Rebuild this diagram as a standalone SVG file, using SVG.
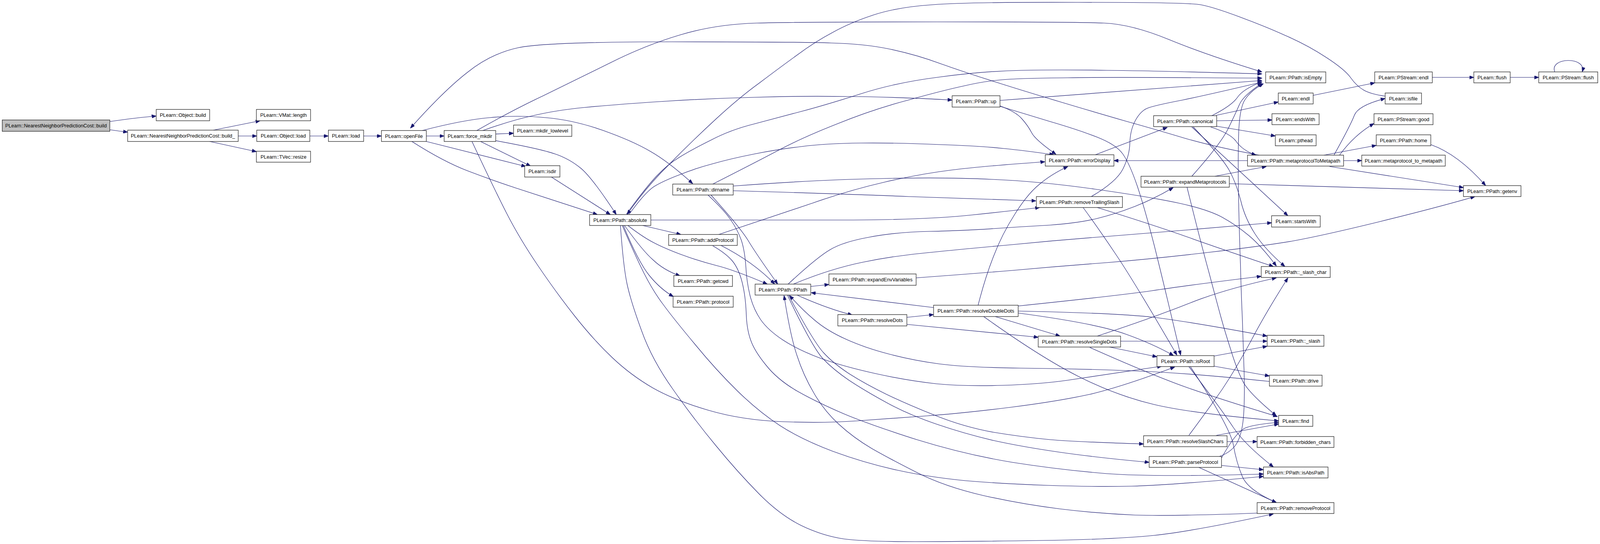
<svg xmlns="http://www.w3.org/2000/svg" width="4312" height="1392" viewBox="0 0 4312 1392">
<defs>
<marker id="a" viewBox="0 0 12 9" refX="12" refY="4.5" markerWidth="12" markerHeight="9" markerUnits="userSpaceOnUse" orient="auto"><path d="M0,0 L12,4.5 L0,9 z" fill="#191970" stroke="#191970" stroke-width="1"/></marker>
<style>
.n rect{fill:#fff;stroke:#222;stroke-width:1.3}
.n text{font-family:"Liberation Sans",Arial,Helvetica,sans-serif;font-size:13.33px;text-anchor:middle;fill:#000}
#edges path{fill:none;stroke:#191970;stroke-width:1.2;marker-end:url(#a)}
</style>
</defs>
<rect width="4312" height="1392" fill="#fff"/>
<g id="diagram" transform="scale(0.9499,1)">
<g id="edges">
<path d="M296,311 C340,305 380,300 421,297"/>
<path d="M296,332 C310,334 325,336 344,338"/>
<path d="M575,333 L701,309"/>
<path d="M642,348 L692,348"/>
<path d="M565,362 L691,388"/>
<path d="M835,348 L885,348"/>
<path d="M980,348 L1028,348"/>
<path d="M1149,348 L1197,348"/>
<path d="M1336,343 L1384,341"/>
<path d="M1149,362 L1417,426"/>
<path d="M1295,362 L1430,425"/>
<path d="M1110,362 Q1196,414 1260,437 Q1323,460 1390,481 Q1457,502 1610,549"/>
<path d="M1336,360 Q1457,381 1496,394 Q1534,406 1566,431 Q1597,456 1661,549"/>
<path d="M1486,453 L1645,549"/>
<path d="M1138,334 Q1247,307 1320,301 Q1393,294 1470,301 Q1546,307 1626,334 Q1706,361 1754,388 Q1802,414 1867,470"/>
<path d="M1285,334 Q1381,282 1464,245 Q1546,207 1642,162 Q1738,116 1834,89 Q1929,62 2040,59 Q2150,56 2525,56 Q2900,56 2975,59 Q3050,62 3150,101 Q3250,140 3401,184"/>
<path d="M1301,334 Q1381,307 1441,295 Q1500,282 1575,275 Q1650,268 1778,260 Q1905,252 2033,249 Q2160,245 2288,247 Q2415,248 2566,256"/>
<path d="M1272,362 Q1330,480 1365,545 Q1400,610 1450,680 Q1500,750 1550,810 Q1600,870 1650,915 Q1700,960 1760,993 Q1820,1025 1910,1050 Q2000,1075 2109,1079 Q2217,1083 2309,1077 Q2400,1071 2500,1064 Q2600,1057 2725,1042 Q2850,1027 2937,1009 Q3023,990 3166,939"/>
<path d="M3733,246 Q3695,241 3676,231 Q3656,220 3641,200 Q3626,179 3576,148 Q3525,116 3467,92 Q3409,67 3340,43 Q3270,18 3235,12 Q3200,6 2905,6 Q2610,5 2515,12 Q2419,18 2355,38 Q2291,58 2244,83 Q2196,107 2148,141 Q2100,174 2047,212 Q1993,249 1929,305 Q1865,361 1803,421 Q1740,480 1690,549"/>
<path d="M3394,397 Q3278,377 3194,354 Q3110,330 3034,310 Q2957,289 2855,260 Q2753,231 2677,208 Q2600,185 2535,163 Q2470,140 2400,126 Q2330,112 2240,110 Q2150,107 1810,107 Q1470,107 1397,122 Q1323,137 1260,185 Q1196,232 1106,328"/>
<path d="M1754,563 L2300,563 Q2500,562 2620,550 Q2720,540 2802,531"/>
<path d="M1732,577 L1835,600"/>
<path d="M1692,577 Q1733,607 1762,621 Q1790,635 1835,651 Q1880,667 1929,679 Q1977,690 2068,727"/>
<path d="M1683,577 Q1733,643 1760,665 Q1790,692 1833,706"/>
<path d="M1680,577 Q1720,670 1750,705 Q1780,740 1815,759"/>
<path d="M1672,577 Q1680,683 1690,727 Q1700,771 1729,846 Q1757,921 1815,998 Q1872,1075 1930,1141 Q1987,1207 2045,1263 Q2102,1318 2160,1345 Q2217,1371 2274,1379 Q2331,1386 2466,1386 Q2600,1386 2804,1383 Q3008,1380 3110,1370 Q3212,1360 3432,1315"/>
<path d="M1677,577 Q1710,650 1735,698 Q1760,745 1788,780 Q1815,815 1873,881 Q1930,947 1987,1000 Q2044,1053 2102,1089 Q2159,1124 2245,1155 Q2331,1185 2418,1203 Q2504,1221 2602,1230 Q2700,1238 2825,1242 Q2950,1246 3050,1244 Q3150,1242 3405,1219"/>
<path d="M1688,548 Q1740,480 1770,450 Q1800,420 1830,403 Q1860,385 1915,359 Q1969,332 2033,317 Q2096,301 2160,285 Q2224,269 2320,240 Q2415,211 2533,197 Q2650,182 2753,180 Q2855,178 2983,180 Q3110,181 3401,189"/>
<path d="M1695,549 Q1740,490 1765,476 Q1790,462 1832,447 Q1873,431 1921,419 Q1969,406 2033,394 Q2096,382 2160,375 Q2224,367 2320,366 Q2415,365 2533,370 Q2650,374 2705,380 Q2760,385 2840,396"/>
<path d="M1921,471 Q2033,417 2097,385 Q2160,353 2256,317 Q2352,280 2448,256 Q2543,231 2597,220 Q2650,208 2702,204 Q2753,200 2877,199 Q3000,197 3401,200"/>
<path d="M1916,499 Q1993,580 2016,615 Q2038,650 2096,727"/>
<path d="M1908,499 Q1950,536 1969,562 Q1988,588 1998,615 Q2007,641 2010,681 Q2012,720 2021,755 Q2030,790 2050,818 Q2070,845 2110,870 Q2150,895 2212,917 Q2274,938 2360,956 Q2446,974 2523,982 Q2600,989 2702,986 Q2804,983 2877,973 Q2950,963 3131,937"/>
<path d="M1976,488 Q2300,497 2450,503 Q2600,508 2792,514"/>
<path d="M1976,476 Q2200,460 2373,457 Q2546,453 2674,459 Q2802,464 2951,484 Q3100,504 3178,520 Q3255,536 3294,556 Q3332,576 3366,603 Q3400,630 3440,681"/>
<path d="M1937,600 Q2096,550 2192,519 Q2288,487 2384,466 Q2479,445 2565,435 Q2650,425 2816,414"/>
<path d="M1943,628 Q2030,670 2088,727"/>
<path d="M1921,629 Q1956,648 1974,668 Q1991,688 2000,722 Q2009,756 2011,799 Q2012,841 2023,870 Q2033,898 2065,935 Q2096,972 2149,1001 Q2201,1029 2272,1058 Q2342,1086 2471,1125 Q2600,1163 2728,1183 Q2855,1202 2983,1212 Q3110,1221 3405,1213"/>
<path d="M2185,733 L2234,728"/>
<path d="M2148,755 Q2230,790 2297,806"/>
<path d="M2124,727 Q2201,659 2237,639 Q2272,619 2342,607 Q2412,594 2506,592 Q2600,590 2677,585 Q2753,580 2830,576 Q2906,571 2957,559 Q3008,547 3059,528 Q3110,509 3162,480"/>
<path d="M2138,727 Q2237,688 2325,671 Q2412,654 2506,646 Q2600,637 2728,626 Q2855,614 2983,605 Q3110,595 3205,588 Q3300,580 3427,570"/>
<path d="M2125,755 Q2194,877 2220,903 Q2245,929 2288,956 Q2331,982 2389,1009 Q2446,1035 2523,1064 Q2600,1093 2677,1106 Q2753,1118 2830,1125 Q2906,1131 3082,1136"/>
<path d="M2122,755 Q2190,890 2218,918 Q2245,945 2288,973 Q2331,1000 2389,1030 Q2446,1060 2523,1085 Q2600,1110 2677,1127 Q2753,1143 2855,1157 Q2957,1171 3097,1183"/>
<path d="M2516,787 L2186,749"/>
<path d="M3388,1313 Q3161,1321 3059,1318 Q2957,1314 2855,1302 Q2753,1290 2650,1268 Q2546,1245 2473,1210 Q2400,1175 2350,1148 Q2300,1120 2260,1085 Q2220,1050 2193,1005 Q2165,960 2148,910 Q2130,860 2113,756"/>
<path d="M3421,976 Q3212,955 3056,949 Q2900,943 2750,942 Q2600,940 2530,931 Q2460,922 2396,906 Q2331,890 2280,868 Q2228,846 2194,818 Q2159,790 2128,756"/>
<path d="M2469,711 Q2600,702 2728,692 Q2855,681 2983,672 Q3110,662 3255,646 Q3400,630 3482,617 Q3564,603 3719,567 Q3873,531 3975,503"/>
<path d="M2444,812 L2516,805"/>
<path d="M2444,830 L2798,863"/>
<path d="M2636,781 Q2655,710 2678,655 Q2700,600 2735,548 Q2770,495 2802,471 Q2833,446 2878,426"/>
<path d="M2744,801 Q2957,828 3034,855 Q3110,881 3163,910"/>
<path d="M2744,796 Q3008,801 3110,812 Q3212,824 3415,860"/>
<path d="M2744,783 Q3008,757 3104,744 Q3200,730 3399,707"/>
<path d="M2682,810 L2857,860"/>
<path d="M2651,810 Q2804,914 2906,963 Q3008,1012 3110,1035 Q3212,1058 3446,1077"/>
<path d="M2957,860 Q3110,812 3205,776 Q3300,740 3440,711"/>
<path d="M3020,873 L3415,873"/>
<path d="M2990,888 L3118,913"/>
<path d="M2937,889 Q3100,958 3200,992 Q3300,1025 3443,1066"/>
<path d="M2695,257 Q3050,232 3401,206"/>
<path d="M2695,271 Q2738,286 2754,304 Q2770,321 2780,339 Q2789,357 2846,395"/>
<path d="M2695,272 Q2753,289 2830,311 Q2906,332 2957,351 Q3008,370 3026,394 Q3044,418 3065,476 Q3085,533 3111,629 Q3136,724 3182,909"/>
<path d="M2941,503 Q3008,466 3026,433 Q3044,399 3045,366 Q3046,332 3060,308 Q3074,284 3092,277 Q3110,270 3187,256 Q3263,241 3401,210"/>
<path d="M2919,531 Q2957,580 3008,652 Q3059,724 3172,909"/>
<path d="M2957,531 Q3110,576 3205,608 Q3300,640 3432,682"/>
<path d="M2952,396 L3146,326"/>
<path d="M3362,411 L3002,411"/>
<path d="M3266,296 Q3320,270 3335,249 Q3350,228 3401,209"/>
<path d="M3278,295 L3445,261"/>
<path d="M3279,309 L3428,307"/>
<path d="M3279,323 L3437,348"/>
<path d="M3263,325 Q3314,341 3330,360 Q3348,385 3385,397"/>
<path d="M3212,325 L3471,552"/>
<path d="M3216,325 Q3293,402 3313,436 Q3332,469 3344,514 Q3355,558 3382,598 Q3409,638 3463,682"/>
<path d="M3595,397 Q3640,320 3650,295 Q3660,270 3733,252"/>
<path d="M3610,397 Q3650,345 3703,316"/>
<path d="M3568,397 L3709,372"/>
<path d="M3621,411 L3670,411"/>
<path d="M3583,426 L3944,480"/>
<path d="M3856,370 Q3930,395 4004,475"/>
<path d="M3313,470 L3944,488"/>
<path d="M3274,451 L3413,426"/>
<path d="M3212,451 Q3290,368 3310,329 Q3330,290 3340,268 Q3350,245 3401,213"/>
<path d="M3199,479 Q3238,628 3259,700 Q3279,772 3290,810 Q3301,848 3317,895 Q3332,942 3348,973 Q3363,1004 3440,1064"/>
<path d="M3272,911 L3415,886"/>
<path d="M3272,937 L3421,962"/>
<path d="M3204,938 Q3293,1049 3324,1094 Q3355,1138 3432,1195"/>
<path d="M3208,938 Q3316,1094 3324,1139 Q3332,1183 3348,1219 Q3363,1254 3440,1286"/>
<path d="M3307,1130 L3388,1130"/>
<path d="M3204,1114 Q3255,1049 3294,996 Q3332,942 3371,873 Q3409,804 3471,711"/>
<path d="M3278,1114 L3446,1085"/>
<path d="M3292,1191 L3405,1202"/>
<path d="M3231,1196 L3440,1286"/>
<path d="M3292,1172 Q3332,1103 3359,1094 Q3386,1085 3446,1081"/>
<path d="M3286,1168 Q3314,1159 3330,1139 Q3345,1118 3350,1078 Q3355,1037 3353,955 Q3350,873 3348,812 Q3345,750 3343,675 Q3340,600 3338,510 Q3336,420 3338,348 Q3340,275 3356,254 Q3371,232 3405,214"/>
<path d="M3539,244 L3705,212"/>
<path d="M3860,198 L3972,198"/>
<path d="M4070,198 L4147,198"/>
<path d="M4190,184 C4175,146 4277,144 4264,184"/>
</g>
<g id="n0" class="n"><rect x="6" y="307" width="290" height="29" style="fill:#bfbfbf"/><text x="151" y="326.3">PLearn::NearestNeighborPredictionCost::build</text></g>
<g id="n1" class="n"><rect x="421" y="280" width="144" height="29"/><text x="493" y="299.3">PLearn::Object::build</text></g>
<g id="n2" class="n"><rect x="344" y="333" width="298" height="29"/><text x="493" y="352.3">PLearn::NearestNeighborPredictionCost::build_</text></g>
<g id="n3" class="n"><rect x="691" y="280" width="146" height="29"/><text x="764" y="299.3">PLearn::VMat::length</text></g>
<g id="n4" class="n"><rect x="692" y="333" width="143" height="29"/><text x="763.5" y="352.3">PLearn::Object::load</text></g>
<g id="n5" class="n"><rect x="691" y="387" width="146" height="28"/><text x="764" y="405.7">PLearn::TVec::resize</text></g>
<g id="n6" class="n"><rect x="885" y="333" width="95" height="29"/><text x="932.5" y="352.3">PLearn::load</text></g>
<g id="n7" class="n"><rect x="1028" y="334" width="121" height="28"/><text x="1088.5" y="352.7">PLearn::openFile</text></g>
<g id="n8" class="n"><rect x="1197" y="334" width="139" height="28"/><text x="1266.5" y="352.7">PLearn::force_mkdir</text></g>
<g id="n9" class="n"><rect x="1384" y="320" width="157" height="29"/><text x="1462.5" y="339.3">PLearn::mkdir_lowlevel</text></g>
<g id="n10" class="n"><rect x="1414" y="424" width="95" height="29"/><text x="1461.5" y="443.3">PLearn::isdir</text></g>
<g id="n11" class="n"><rect x="1589" y="549" width="165" height="28"/><text x="1671.5" y="567.7">PLearn::PPath::absolute</text></g>
<g id="n12" class="n"><rect x="1813" y="471" width="163" height="28"/><text x="1894.5" y="489.7">PLearn::PPath::dirname</text></g>
<g id="n13" class="n"><rect x="1802" y="600" width="185" height="28"/><text x="1894.5" y="618.7">PLearn::PPath::addProtocol</text></g>
<g id="n14" class="n"><rect x="1816" y="705" width="158" height="28"/><text x="1895" y="723.7">PLearn::PPath::getcwd</text></g>
<g id="n15" class="n"><rect x="1814" y="758" width="162" height="28"/><text x="1895" y="776.7">PLearn::PPath::protocol</text></g>
<g id="n16" class="n"><rect x="2035" y="727" width="150" height="28"/><text x="2110" y="745.7">PLearn::PPath::PPath</text></g>
<g id="n17" class="n"><rect x="2234" y="701" width="235" height="29"/><text x="2351.5" y="720.3">PLearn::PPath::expandEnvVariables</text></g>
<g id="n18" class="n"><rect x="2258" y="805" width="186" height="29"/><text x="2351" y="824.3">PLearn::PPath::resolveDots</text></g>
<g id="n19" class="n"><rect x="2516" y="781" width="228" height="29"/><text x="2630" y="800.3">PLearn::PPath::resolveDoubleDots</text></g>
<g id="n20" class="n"><rect x="2566" y="245" width="129" height="29"/><text x="2630.5" y="264.3">PLearn::PPath::up</text></g>
<g id="n21" class="n"><rect x="2817" y="396" width="185" height="29"/><text x="2909.5" y="415.3">PLearn::PPath::errorDisplay</text></g>
<g id="n22" class="n"><rect x="2793" y="503" width="232" height="28"/><text x="2909" y="521.7">PLearn::PPath::removeTrailingSlash</text></g>
<g id="n23" class="n"><rect x="2798" y="860" width="222" height="28"/><text x="2909" y="878.7">PLearn::PPath::resolveSingleDots</text></g>
<g id="n24" class="n"><rect x="3109" y="296" width="170" height="28"/><text x="3194" y="314.7">PLearn::PPath::canonical</text></g>
<g id="n25" class="n"><rect x="3075" y="451" width="238" height="28"/><text x="3194" y="469.7">PLearn::PPath::expandMetaprotocols</text></g>
<g id="n26" class="n"><rect x="3118" y="910" width="154" height="28"/><text x="3195" y="928.7">PLearn::PPath::isRoot</text></g>
<g id="n27" class="n"><rect x="3082" y="1115" width="225" height="28"/><text x="3194.5" y="1133.7">PLearn::PPath::resolveSlashChars</text></g>
<g id="n28" class="n"><rect x="3097" y="1168" width="195" height="28"/><text x="3194.5" y="1186.7">PLearn::PPath::parseProtocol</text></g>
<g id="n29" class="n"><rect x="3411" y="184" width="162" height="28"/><text x="3492" y="202.7">PLearn::PPath::isEmpty</text></g>
<g id="n30" class="n"><rect x="3445" y="238" width="94" height="28"/><text x="3492" y="256.7">PLearn::endl</text></g>
<g id="n31" class="n"><rect x="3428" y="291" width="127" height="28"/><text x="3491.5" y="309.7">PLearn::endsWith</text></g>
<g id="n32" class="n"><rect x="3437" y="345" width="110" height="28"/><text x="3492" y="363.7">PLearn::pthead</text></g>
<g id="n33" class="n"><rect x="3362" y="397" width="259" height="28"/><text x="3491.5" y="415.7">PLearn::PPath::metaprotocolToMetapath</text></g>
<g id="n34" class="n"><rect x="3427" y="552" width="131" height="29"/><text x="3492.5" y="571.3">PLearn::startsWith</text></g>
<g id="n35" class="n"><rect x="3399" y="682" width="186" height="28"/><text x="3492" y="700.7">PLearn::PPath::_slash_char</text></g>
<g id="n36" class="n"><rect x="3415" y="858" width="153" height="28"/><text x="3491.5" y="876.7">PLearn::PPath::_slash</text></g>
<g id="n37" class="n"><rect x="3421" y="960" width="142" height="28"/><text x="3492" y="978.7">PLearn::PPath::drive</text></g>
<g id="n38" class="n"><rect x="3446" y="1063" width="92" height="28"/><text x="3492" y="1081.7">PLearn::find</text></g>
<g id="n39" class="n"><rect x="3388" y="1117" width="207" height="28"/><text x="3491.5" y="1135.7">PLearn::PPath::forbidden_chars</text></g>
<g id="n40" class="n"><rect x="3405" y="1195" width="174" height="28"/><text x="3492" y="1213.7">PLearn::PPath::isAbsPath</text></g>
<g id="n41" class="n"><rect x="3388" y="1286" width="207" height="28"/><text x="3491.5" y="1304.7">PLearn::PPath::removeProtocol</text></g>
<g id="n42" class="n"><rect x="3705" y="184" width="155" height="28"/><text x="3782.5" y="202.7">PLearn::PStream::endl</text></g>
<g id="n43" class="n"><rect x="3733" y="238" width="98" height="28"/><text x="3782" y="256.7">PLearn::isfile</text></g>
<g id="n44" class="n"><rect x="3703" y="291" width="159" height="28"/><text x="3782.5" y="309.7">PLearn::PStream::good</text></g>
<g id="n45" class="n"><rect x="3709" y="345" width="147" height="28"/><text x="3782.5" y="363.7">PLearn::PPath::home</text></g>
<g id="n46" class="n"><rect x="3670" y="397" width="225" height="28"/><text x="3782.5" y="415.7">PLearn::metaprotocol_to_metapath</text></g>
<g id="n47" class="n"><rect x="3972" y="184" width="98" height="28"/><text x="4021" y="202.7">PLearn::flush</text></g>
<g id="n48" class="n"><rect x="3944" y="475" width="155" height="28"/><text x="4021.5" y="493.7">PLearn::PPath::getenv</text></g>
<g id="n49" class="n"><rect x="4147" y="184" width="159" height="28"/><text x="4226.5" y="202.7">PLearn::PStream::flush</text></g>
</g>
</svg>
